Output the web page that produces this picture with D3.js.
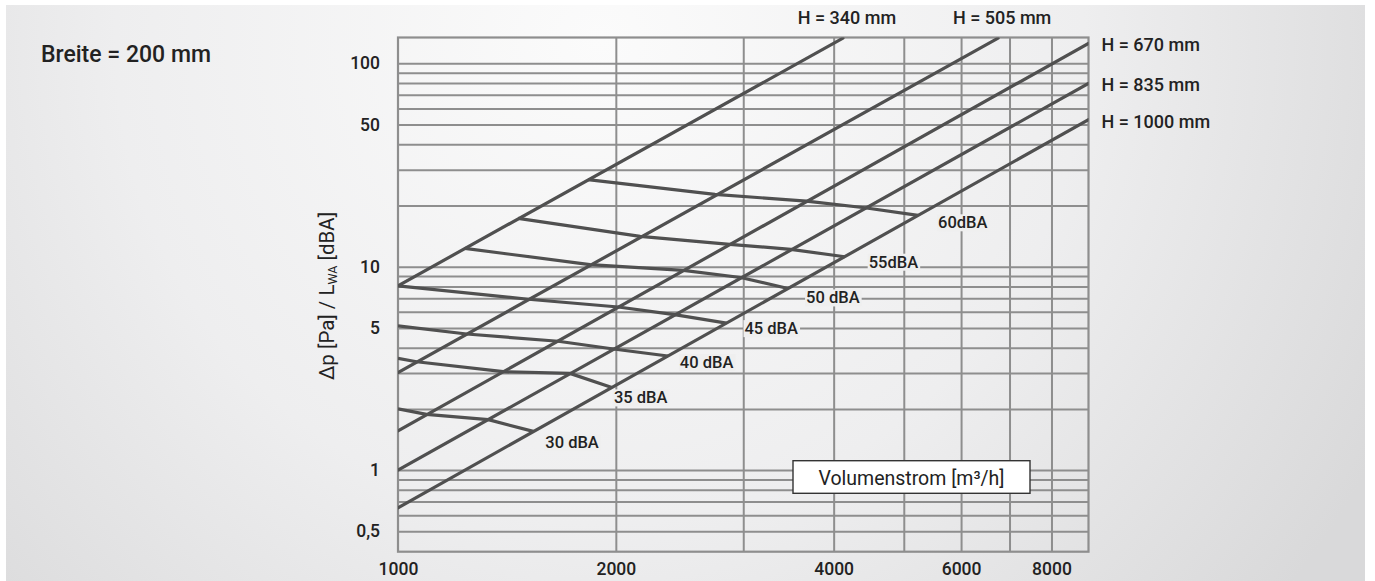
<!DOCTYPE html>
<html lang="de">
    <head>
        <meta charset="utf-8" />
        <title>Breite = 200 mm</title>
        <script src="https://d3js.org/d3.v7.min.js"></script>
        <style>
            html, body { margin:0; padding:0; overflow:hidden; background-color:#ffffff }
            svg { display:block }
            text { font-family: Roboto, "Liberation Sans", Arial, sans-serif; fill:#222 }
        </style>
    </head>
    <body>
        <svg id="svg" width="1375" height="581"></svg>
        <script>

            // axis values
            let xDomain = [1000, 9000];
            let yDomain = [0.397, 134];
            let xGrid = [2000, 3000, 4000, 5000, 6000, 7000, 8000];
            let yGrid = [0.5, 0.6, 0.7, 0.8, 0.9, 1, 2, 3, 4, 5, 6, 7, 8, 9, 10, 20, 30, 40, 50, 60, 70, 80, 90, 100];
            let xTicks = [1000, 2000, 4000, 6000, 8000];
            let yTicks = [100, 50, 10, 5, 1, 0.5];
            let yTickLabels = ["100", "50", "10", "5", "1", "0,5"];

            // Kanalhoehe lines, [volumenstrom, druck] at both ends
            let hNames = ["H = 340 mm", "H = 505 mm", "H = 670 mm", "H = 835 mm", "H = 1000 mm"];
            let hStart = [[1000, 8.06], [1000, 3.02], [1000, 1.56], [1000, 1.0], [1000, 0.653]];
            let hEnd = [[4120, 133], [6750, 133], [9000, 125.4], [9000, 79.7], [9000, 52.9]];

            // sound level lines, one point per crossing with an H line
            let dbaNames = ["30 dBA", "35 dBA", "40 dBA", "45 dBA", "50 dBA", "55dBA", "60dBA"];
            let dba30 = [[1000, 2.0], [1095, 1.88], [1333, 1.77], [1538, 1.55]];
            let dba35 = [[1000, 3.54], [1061, 3.41], [1398, 3.05], [1728, 2.99], [1975, 2.55]];
            let dba40 = [[1000, 5.12], [1244, 4.67], [1665, 4.3], [1985, 3.94], [2360, 3.64]];
            let dba45 = [[1000, 8.06], [1514, 6.92], [2016, 6.34], [2410, 5.81], [2844, 5.28]];
            let dba50 = [[1237, 12.3], [1842, 10.25], [2480, 9.6], [2975, 8.85], [3460, 7.82]];
            let dba55 = [[1466, 17.3], [2161, 14.1], [2874, 12.88], [3490, 12.18], [4143, 11.2]];
            let dba60 = [[1830, 26.8], [2741, 22.7], [3668, 21.0], [4416, 19.5], [5232, 17.9]];
            let dbaLines = [dba30, dba35, dba40, dba45, dba50, dba55, dba60];

            // label placement relative to the last point of each line
            let dbaOffset = [[12, 17], [2, 16], [12, 12], [18, 11], [18, 15], [24, 11], [20, 13]];
            let hLabelPos = [[4, -14], [4, -14], [13, 8], [13, 8], [13, 8]];

            let pLeft = 398, pRight = 1088.5, pTop = 37.5, pBottom = 551.7;

            let x = d3.scaleLog().domain(xDomain).range([pLeft, pRight]);
            let y = d3.scaleLog().domain(yDomain).range([pBottom, pTop]);

            let svg = d3.select("svg");
            let defs = svg.append("defs");

            let grad = defs.append("radialGradient")
                .attr("id", "bg")
                .attr("gradientUnits", "userSpaceOnUse")
                .attr("cx", 600).attr("cy", 40).attr("r", 880);
            grad.append("stop").attr("offset", "0").attr("stop-color", "#fbfbfb");
            grad.append("stop").attr("offset", "0.55").attr("stop-color", "#eeeeef");
            grad.append("stop").attr("offset", "1").attr("stop-color", "#d9d9da");

            defs.append("clipPath").attr("id", "plot")
                .append("rect")
                .attr("x", pLeft).attr("y", pTop)
                .attr("width", pRight - pLeft).attr("height", pBottom - pTop);

            svg.append("rect")
                .attr("x", 6).attr("y", 5)
                .attr("width", 1359).attr("height", 576)
                .attr("fill", "url(#bg)");

            // grid
            let gridColor = "#8e8e8e";
            let gy = svg.append("g")
                .attr("transform", "translate(" + pLeft + ",0)")
                .call(d3.axisLeft(y).tickValues(yGrid).tickSize(-(pRight - pLeft)).tickFormat(""));
            gy.select(".domain").remove();
            gy.selectAll("line").attr("stroke", gridColor).attr("stroke-width", 2);

            let gx = svg.append("g")
                .attr("transform", "translate(0," + pBottom + ")")
                .call(d3.axisBottom(x).tickValues(xGrid).tickSize(-(pBottom - pTop)).tickFormat(""));
            gx.select(".domain").remove();
            gx.selectAll("line").attr("stroke", gridColor).attr("stroke-width", 2);

            svg.append("rect")
                .attr("x", pLeft).attr("y", pTop)
                .attr("width", pRight - pLeft).attr("height", pBottom - pTop)
                .attr("fill", "none")
                .attr("stroke", gridColor)
                .attr("stroke-width", 2.2);

            // tick labels
            let ay = svg.append("g")
                .attr("transform", "translate(" + pLeft + ",0)")
                .call(d3.axisLeft(y).tickValues(yTicks).tickSize(0).tickPadding(18)
                    .tickFormat((d, i) => yTickLabels[i]));
            ay.select(".domain").remove();
            ay.selectAll("text")
                .attr("font-size", 17.5)
                .attr("font-weight", 500)
                .attr("font-family", "Roboto, sans-serif")
                .attr("fill", "#222");

            let ax = svg.append("g")
                .attr("transform", "translate(0," + pBottom + ")")
                .call(d3.axisBottom(x).tickValues(xTicks).tickSize(0).tickPadding(11)
                    .tickFormat(d => String(d)));
            ax.select(".domain").remove();
            ax.selectAll("text")
                .attr("font-size", 17.5)
                .attr("font-weight", 500)
                .attr("font-family", "Roboto, sans-serif")
                .attr("fill", "#222");

            // curves
            let line = d3.line()
                .x(d => x(d[0]))
                .y(d => y(d[1]));

            let curves = svg.append("g").attr("clip-path", "url(#plot)");
            let curveColor = "#505050";

            curves.selectAll(".hline")
                .data(hNames.map((n, i) => [hStart[i], hEnd[i]]))
                .join("path")
                .attr("class", "hline")
                .attr("d", line)
                .attr("fill", "none")
                .attr("stroke", curveColor)
                .attr("stroke-width", 3.2)
                .attr("stroke-linecap", "round");

            curves.selectAll(".dba")
                .data(dbaLines)
                .join("path")
                .attr("class", "dba")
                .attr("d", line)
                .attr("fill", "none")
                .attr("stroke", curveColor)
                .attr("stroke-width", 3.2)
                .attr("stroke-linejoin", "round");

            // dBA labels with light box behind
            let lab = svg.append("g");
            dbaLines.forEach((pts, i) => {
                let p = pts[pts.length - 1];
                let tx = x(p[0]) + dbaOffset[i][0];
                let ty = y(p[1]) + dbaOffset[i][1];
                let t = lab.append("text")
                    .attr("x", tx).attr("y", ty)
                    .attr("font-size", 16.5)
                    .attr("font-weight", 500)
                    .text(dbaNames[i]);
                let bb = t.node().getBBox();
                lab.insert("rect", "text")
                    .attr("x", bb.x - 1).attr("y", bb.y + 1)
                    .attr("width", bb.width + 3).attr("height", bb.height - 2)
                    .attr("fill", "#efefef");
            });

            // H labels
            hNames.forEach((n, i) => {
                let p = hEnd[i];
                let t = svg.append("text")
                    .attr("x", x(p[0]) + hLabelPos[i][0])
                    .attr("y", y(p[1]) + hLabelPos[i][1])
                    .attr("font-size", 18)
                    .attr("font-weight", 500)
                    .text(n);
                if (i < 2) t.attr("text-anchor", "middle");
            });

            // title
            svg.append("text")
                .attr("x", 41).attr("y", 62)
                .attr("font-size", 23)
                .attr("font-weight", 500)
                .text("Breite = 200 mm");

            // y axis title
            let yt = svg.append("text")
                .attr("transform", "translate(334,296) rotate(-90)")
                .attr("text-anchor", "middle")
                .attr("font-size", 20.5)
                .attr("fill", "#333");
            yt.append("tspan").text("\u0394p [Pa] / L");
            yt.append("tspan").attr("font-size", 12.5).attr("dy", 3).text("WA");
            yt.append("tspan").attr("dy", -3).text(" [dBA]");

            // x axis title box
            svg.append("rect")
                .attr("x", 793).attr("y", 460.7)
                .attr("width", 237).attr("height", 32.6)
                .attr("fill", "#ffffff")
                .attr("stroke", "#333")
                .attr("stroke-width", 1.4);
            svg.append("text")
                .attr("x", 911.5).attr("y", 484.5)
                .attr("text-anchor", "middle")
                .attr("font-size", 19.5)
                .text("Volumenstrom [m\u00b3/h]");

        </script>
    </body>
</html>
